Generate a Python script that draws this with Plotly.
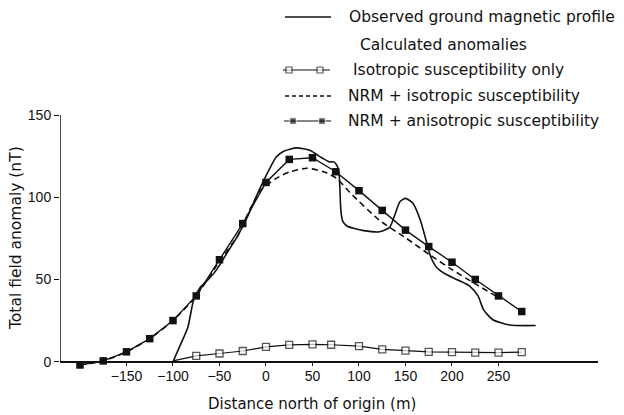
import plotly.graph_objects as go

# ---------------- data ----------------
aniso_x = [-200, -175, -150, -125, -100, -75, -50, -25, 0, 25, 50, 75, 100, 125, 150, 175, 200, 225, 250, 275]
aniso_y = [-2, 0.5, 6, 14, 25, 40, 62, 84, 109, 123, 124, 115.5, 104, 92, 80, 70, 60.5, 50, 40, 30.5]

iso_x = [-100, -75, -50, -25, 0, 25, 50, 70, 100, 125, 150, 175, 200, 225, 250, 275]
iso_y = [0.5, 3.5, 5, 6.5, 9, 10.2, 10.5, 10.3, 9.5, 7.5, 6.7, 6, 5.8, 5.5, 5.5, 5.8]

nrm_iso_x = [-200, -175, -150, -125, -100, -75, -50, -30, -17, -6, 11, 26, 44, 62, 76, 90, 122, 151, 176, 200, 226, 250]
nrm_iso_y = [-2, 0.5, 6, 14, 25, 40, 61, 77, 93, 104, 111.5, 115.5, 117.6, 115.5, 111.5, 103, 86, 75, 65, 56, 47, 39]

obs_x = [-100, -93, -84, -78, -71, -62, -53, -42, -30, -20, -10, 0, 11, 19, 33, 47, 60, 68, 73, 76.5,
         78.5, 79.5, 80.5, 82.5, 87, 95, 105, 122, 133, 139, 144, 150, 158, 166, 173, 177, 184, 194,
         207, 219, 228, 234, 244, 262, 290]
obs_y = [0, 9, 21, 37, 45, 50, 56, 66, 77, 88, 101, 113, 124.5, 128, 130, 128.5, 124, 121.5, 121.5, 119,
         115, 105, 92, 85.5, 82.5, 81, 79.7, 79, 81.7, 90, 97.3, 99.3, 96.3, 86, 72, 64, 57, 53,
         49.5, 46, 40, 31.5, 25.5, 22.3, 22]

x_ticks = [-150, -100, -50, 0, 50, 100, 150, 200, 250]
y_ticks = [0, 50, 100, 150]

legend_labels = ["Observed ground magnetic profile", "Calculated anomalies",
                 "Isotropic susceptibility only", "NRM + isotropic susceptibility",
                 "NRM + anisotropic susceptibility"]

TXT = "DejaVu Sans"
TICK = "Liberation Sans"
INK = "#111111"
W, H = 624, 415
X_RANGE = [-221.5, 357]
Y_RANGE = [-2.5, 150]
PL, PR, PT = 60, 598, 115          # plot area edges in pixels
PB = 361.7 + 2.5 * (361.7 - PT) / 150  # bottom edge so that y=0 sits at 361.7

fig = go.Figure()

fig.add_trace(go.Scatter(x=obs_x, y=obs_y, mode="lines",
                         line=dict(color=INK, width=1.6, shape="spline", smoothing=0.6),
                         showlegend=False, hoverinfo="skip"))
fig.add_trace(go.Scatter(x=nrm_iso_x, y=nrm_iso_y, mode="lines",
                         line=dict(color=INK, width=1.6, dash="6px,4px", shape="spline", smoothing=0.6),
                         showlegend=False, hoverinfo="skip"))
fig.add_trace(go.Scatter(x=iso_x, y=iso_y, mode="lines+markers",
                         line=dict(color=INK, width=1.2),
                         marker=dict(symbol="square", size=[0] + [7] * (len(iso_x) - 1), color="white",
                                     line=dict(color=INK, width=1.3)),
                         cliponaxis=False, showlegend=False, hoverinfo="skip"))
fig.add_trace(go.Scatter(x=aniso_x, y=aniso_y, mode="lines+markers",
                         line=dict(color=INK, width=1.4),
                         marker=dict(symbol="square", size=7.5, color=INK),
                         cliponaxis=False, showlegend=False, hoverinfo="skip"))

# ---- hand-made legend on a pixel overlay axis ----
legend_rows = [17, 45, 70, 96, 121]
fig.add_trace(go.Scatter(x=[285, 331], y=[legend_rows[0]] * 2, xaxis="x2", yaxis="y2", mode="lines",
                         line=dict(color=INK, width=1.6), showlegend=False, hoverinfo="skip"))
fig.add_trace(go.Scatter(x=[283, 289, 320, 330], y=[legend_rows[2]] * 4, xaxis="x2", yaxis="y2",
                         mode="lines+markers", line=dict(color=INK, width=1.2),
                         marker=dict(symbol="square", size=[0, 6, 6, 0], color="white",
                                     line=dict(color=INK, width=1.2)),
                         cliponaxis=False, showlegend=False, hoverinfo="skip"))
fig.add_trace(go.Scatter(x=[285, 331], y=[legend_rows[3]] * 2, xaxis="x2", yaxis="y2", mode="lines",
                         line=dict(color=INK, width=1.3, dash="4px,3px"), showlegend=False, hoverinfo="skip"))
fig.add_trace(go.Scatter(x=[284, 293, 322, 331], y=[legend_rows[4]] * 4, xaxis="x2", yaxis="y2",
                         mode="lines+markers", line=dict(color=INK, width=1.2),
                         marker=dict(symbol="square", size=[0, 6.5, 6.5, 0], color=INK),
                         cliponaxis=False, showlegend=False, hoverinfo="skip"))

legend_x = [347, 358, 351, 346, 346]
annotations = []
for lab, px, py in zip(legend_labels, legend_x, legend_rows):
    annotations.append(dict(text=lab, x=px, y=py, xref="x2", yref="y2", xanchor="left",
                            yanchor="middle", showarrow=False, font=dict(family=TXT, size=15.5, color=INK)))
annotations.append(dict(text="Distance north of origin (m)", x=312, y=404, xref="x2", yref="y2",
                        xanchor="center", yanchor="middle", showarrow=False,
                        font=dict(family=TXT, size=15, color=INK)))
annotations.append(dict(text="Total field anomaly (nT)", x=16, y=238, xref="x2", yref="y2",
                        xanchor="center", yanchor="middle", showarrow=False, textangle=-90,
                        font=dict(family=TXT, size=15.5, color=INK)))

fig.update_layout(
    width=W, height=H,
    margin=dict(l=0, r=0, t=0, b=0, pad=0),
    paper_bgcolor="white", plot_bgcolor="rgba(0,0,0,0)",
    xaxis=dict(domain=[PL / W, PR / W], range=X_RANGE, tickvals=x_ticks, ticks="inside",
               ticklen=4, tickwidth=1.3, tickcolor=INK, showline=False,
               showgrid=False, zeroline=False, automargin=False,
               tickfont=dict(family=TICK, size=14, color=INK), fixedrange=True),
    yaxis=dict(domain=[1 - PB / H, 1 - PT / H], range=Y_RANGE, tickvals=y_ticks, ticks="outside",
               ticklen=5, tickwidth=1.3, tickcolor=INK, showline=False,
               showgrid=False, zeroline=True, zerolinecolor=INK, zerolinewidth=1.5, automargin=False,
               tickfont=dict(family=TICK, size=14, color=INK), fixedrange=True),
    xaxis2=dict(domain=[0, 1], range=[0, W], visible=False, anchor="y2", fixedrange=True),
    yaxis2=dict(domain=[0, 1], range=[H, 0], visible=False, anchor="x2", fixedrange=True),
    shapes=[dict(type="line", xref="x", yref="y", x0=X_RANGE[0], x1=X_RANGE[0], y0=0, y1=Y_RANGE[1],
                 line=dict(color=INK, width=1.5), layer="below")],
    annotations=annotations,
    showlegend=False,
)

fig.write_html("out.html")
